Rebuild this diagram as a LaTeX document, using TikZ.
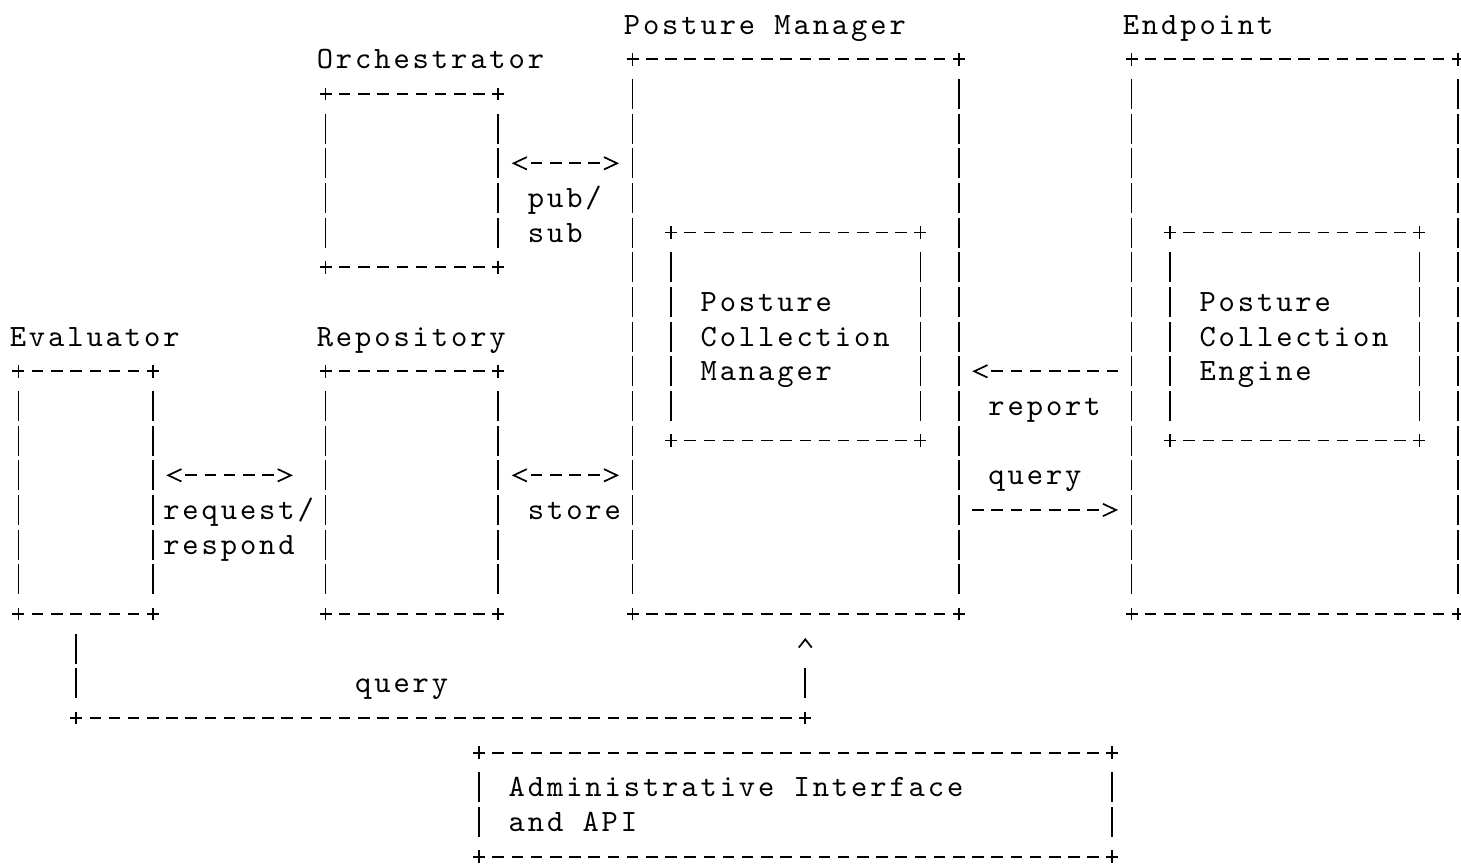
\documentclass[tikz,border=0pt]{standalone}
\usepackage{fontspec}
\newfontfamily\asciifont{lmmono10-regular.otf}[LetterSpace=9.403]
\usetikzlibrary{arrows.meta, fit}

\begin{document}
\begin{tikzpicture}[
    x=9.595pt,
    y=-17.335pt,
    line width=0.85pt,
    chev/.tip={Straight Barb[length=6.6pt, width=6.2pt]},
    caret/.tip={Straight Barb[length=4.15pt, width=6.5pt]},
    frame/.style={inner sep=0pt, outer sep=0pt},
    lbl/.style={font=\asciifont\fontsize{15.5pt}{17.335pt}\selectfont, inner sep=0pt, anchor=base west},
    hdash/.style={dash pattern=on 5.75pt off 3.845pt, dash phase=2.875pt},
    vbar/.style={dash pattern=on 15pt off 2.335pt, shorten <=9.835pt, shorten >=9.835pt},
    link/.style={dash pattern=on 5.75pt off 3.845pt},
    tips/.style={dash pattern=on 0pt off 300pt},
]

    \useasboundingbox (-0.964,-0.71) rectangle (75.17,24.21);

    \node[frame, fit={(16,2) (25,7)}]   (Orc) {};
    \node[frame, fit={(16,10) (25,17)}] (Rep) {};
    \node[frame, fit={(0,10) (7,17)}]   (Eva) {};
    \node[frame, fit={(32,1) (49,17)}]  (PM)  {};
    \node[frame, fit={(34,6) (47,12)}]  (PCM) {};
    \node[frame, fit={(58,1) (75,17)}]  (EP)  {};
    \node[frame, fit={(60,6) (73,12)}]  (PCE) {};
    \node[frame, fit={(24,21) (57,24)}] (API) {};

    \foreach \b in {Orc, Rep, Eva, PM, PCM, EP, PCE, API} {
        \draw[hdash] (\b.north west) -- (\b.north east);
        \draw[hdash] (\b.south west) -- (\b.south east);
        \draw[vbar]  (\b.north west) -- (\b.south west);
        \draw[vbar]  (\b.north east) -- (\b.south east);
        \foreach \k in {north west, north east, south west, south east}
            \draw (\b.\k) +(-3pt,0) -- +(3pt,0) +(0,-3.15pt) -- +(0,3.15pt);
    }

    \node[lbl] (PML)  at (31.5,0.271)  {Posture Manager};
    \node[lbl] (EPL)  at (57.5,0.271)  {Endpoint};
    \node[lbl] (OrcL) at (15.5,1.271)  {Orchestrator};
    \node[lbl] (EvaL) at (-0.5,9.271)  {Evaluator};
    \node[lbl] (RepL) at (15.5,9.271)  {Repository};

    \node[lbl] (PCM1) at (35.5,8.271)  {Posture};
    \node[lbl] (PCM2) at (35.5,9.271)  {Collection};
    \node[lbl] (PCM3) at (35.5,10.271) {Manager};
    \node[lbl] (PCE1) at (61.5,8.271)  {Posture};
    \node[lbl] (PCE2) at (61.5,9.271)  {Collection};
    \node[lbl] (PCE3) at (61.5,10.271) {Engine};
    \node[lbl] (API1) at (25.5,22.271) {Administrative Interface};
    \node[lbl] (API2) at (25.5,23.271) {and API};

    \coordinate (r4)  at (0,4);
    \coordinate (r10) at (0,10);
    \coordinate (r13) at (0,13);
    \coordinate (r14) at (0,14);
    \coordinate (qa)  at (3,20);
    \coordinate (qb)  at (41,20);

    \draw[link, shorten <=16.31pt, shorten >=16.31pt]               (Orc.east |- r4)  -- (PM.west |- r4);
    \draw[tips, chev-chev, shorten <=6.72pt, shorten >=6.72pt]      (Orc.east |- r4)  -- (PM.west |- r4);
    \draw[link, shorten <=16.31pt, shorten >=25.91pt]               (Eva.east |- r13) -- (Rep.west |- r13);
    \draw[tips, chev-chev, shorten <=6.72pt, shorten >=16.31pt]     (Eva.east |- r13) -- (Rep.west |- r13);
    \draw[link, shorten <=16.31pt, shorten >=16.31pt]               (Rep.east |- r13) -- (PM.west |- r13);
    \draw[tips, chev-chev, shorten <=6.72pt, shorten >=6.72pt]      (Rep.east |- r13) -- (PM.west |- r13);
    \draw[link, shorten <=6.72pt, shorten >=16.31pt]                (EP.west |- r10)  -- (PM.east |- r10);
    \draw[tips, -chev, shorten >=6.72pt]                            (EP.west |- r10)  -- (PM.east |- r10);
    \draw[link, shorten <=6.72pt, shorten >=16.31pt]                (PM.east |- r14)  -- (EP.west |- r14);
    \draw[tips, -chev, shorten >=6.72pt]                            (PM.east |- r14)  -- (EP.west |- r14);

    \draw[vbar]                             (qa |- Eva.south) -- (qa);
    \draw[hdash]                            (qa) -- (qb);
    \draw[vbar, shorten >=26.9pt]           (qb) -- (qb |- PM.south);
    \draw[tips, -caret, shorten >=11.96pt]  (qb) -- (qb |- PM.south);
    \foreach \c in {qa, qb}
        \draw (\c) +(-3pt,0) -- +(3pt,0) +(0,-3.15pt) -- +(0,3.15pt);

    \node[lbl] (PubL)   at (26.5,5.271)  {pub/};
    \node[lbl] (SubL)   at (26.5,6.271)  {sub};
    \node[lbl] (ReqL)   at (7.5,14.271)  {request/};
    \node[lbl] (RespL)  at (7.5,15.271)  {respond};
    \node[lbl] (StoreL) at (26.5,14.271) {store};
    \node[lbl] (RepoL)  at (50.5,11.271) {report};
    \node[lbl] (QryL)   at (50.5,13.271) {query};
    \node[lbl] (AdmQL)  at (17.5,19.271) {query};

\end{tikzpicture}
\end{document}
